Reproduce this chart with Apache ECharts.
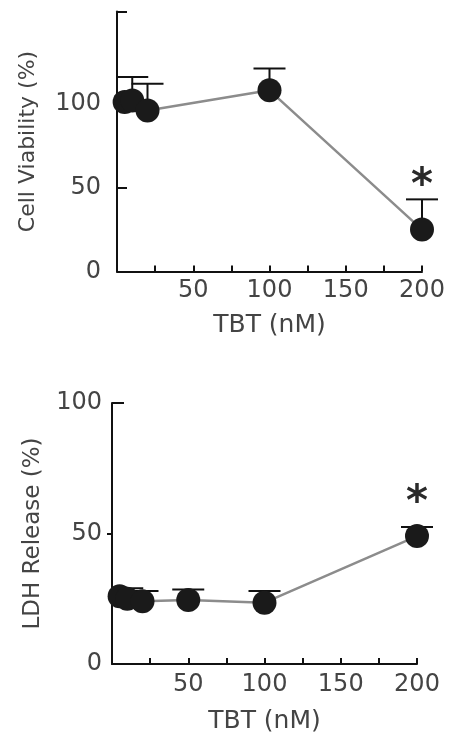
<!DOCTYPE html>
<html>
<head>
<meta charset="utf-8">
<script src="https://cdn.jsdelivr.net/npm/echarts@6/dist/echarts.min.js"></script>
<style>
html,body{margin:0;padding:0;background:#fff;}
#chart{width:454px;height:737px;}
</style>
</head>
<body>
<div id="chart"></div>
<script>
// ---- data ----
const doseTop = [5, 10, 20, 100, 200];
const viability = [101, 102, 96, 108, 25];
const viabilitySD = [0, 14, 16, 13, 18];
const viabilitySig = [200];

const doseBottom = [5, 10, 20, 50, 100, 200];
const ldhRelease = [26, 25, 24, 24.5, 23.5, 49];
const ldhSD = [0, 4, 4, 4, 4.5, 3.5];
const ldhSig = [200];

const xTickLabels = [50, 100, 150, 200];
const yTickLabels = [0, 50, 100];

const FONT = 'DejaVu Sans';
const TXT = '#444';

function pairs(xs, ys) { return xs.map((x, i) => [x, ys[i]]); }
function errData(xs, ys, sd, sig) { return xs.map((x, i) => [x, ys[i], sd[i], sig.includes(x) ? 1 : 0]); }

function errRender(starOffset) {
  return function (params, api) {
    const x = api.value(0), y = api.value(1), sd = api.value(2), sig = api.value(3);
    const p0 = api.coord([x, y]);
    const p1 = api.coord([x, y + sd]);
    const children = [];
    const st = { stroke: '#111', lineWidth: 2 };
    if (sd > 0) {
      children.push({ type: 'line', shape: { x1: p0[0], y1: p0[1], x2: p1[0], y2: p1[1] }, style: st });
      children.push({ type: 'line', shape: { x1: p1[0] - 16, y1: p1[1], x2: p1[0] + 16, y2: p1[1] }, style: st });
    }
    if (sig) {
      children.push({ type: 'text', x: p1[0], y: p1[1] - starOffset,
        style: { text: '*', fontSize: 42, fontWeight: 'bold', fontFamily: FONT, fill: '#2a2a2a', align: 'center', verticalAlign: 'middle' } });
    }
    return { type: 'group', children };
  };
}

function xAxis(grid, margin, nameGap) {
  return {
    type: 'value', gridIndex: grid, min: 0, max: 200, interval: 25,
    axisLine: { lineStyle: { color: '#111', width: 2 } },
    axisTick: { inside: true, length: 6, lineStyle: { color: '#111', width: 2 } },
    axisLabel: { margin: margin, fontSize: 24, fontFamily: FONT, color: TXT,
      formatter: v => xTickLabels.includes(v) ? String(v) : '' },
    splitLine: { show: false },
    name: 'TBT (nM)', nameLocation: 'middle', nameGap: nameGap,
    nameTextStyle: { fontSize: 25, fontFamily: FONT, color: TXT }
  };
}

const option = {
  backgroundColor: '#fff',
  animation: false,
  grid: [
    { left: 117, top: 11.5, width: 305, height: 260 },
    { left: 112, top: 403, width: 305, height: 261 }
  ],
  xAxis: [ xAxis(0, 7, 41), xAxis(1, 9, 45) ],
  yAxis: [
    {
      type: 'value', gridIndex: 0, min: 0, max: 155, position: 'left',
      axisLine: { show: true, lineStyle: { color: '#111', width: 2 } },
      axisTick: { show: true, inside: true, length: 10, customValues: [50, 100, 155], lineStyle: { color: '#111', width: 2 } },
      axisLabel: { customValues: yTickLabels, margin: 16, fontSize: 24, fontFamily: FONT, color: TXT },
      splitLine: { show: false },
      name: 'Cell Viability (%)', nameLocation: 'middle', nameGap: 78, nameRotate: 90,
      nameTextStyle: { fontSize: 22, fontFamily: FONT, color: TXT }
    },
    {
      type: 'value', gridIndex: 1, min: 0, max: 100, position: 'left',
      axisLine: { show: true, lineStyle: { color: '#111', width: 2 } },
      axisTick: { show: true, inside: false, length: 5, customValues: [50], lineStyle: { color: '#111', width: 2 } },
      axisLabel: { customValues: yTickLabels, margin: 10, fontSize: 24, fontFamily: FONT, color: TXT },
      splitLine: { show: false },
      name: 'LDH Release (%)', nameLocation: 'middle', nameGap: 67, nameRotate: 90,
      nameTextStyle: { fontSize: 23, fontFamily: FONT, color: TXT }
    },
    {
      type: 'value', gridIndex: 1, min: 0, max: 100, position: 'left', offset: 0,
      axisLine: { show: false },
      axisTick: { show: true, inside: true, length: 12, customValues: [100], lineStyle: { color: '#111', width: 2 } },
      axisLabel: { show: false },
      splitLine: { show: false }
    }
  ],
  series: [
    { type: 'custom', xAxisIndex: 0, yAxisIndex: 0, clip: false, z: 1,
      renderItem: errRender(12), data: errData(doseTop, viability, viabilitySD, viabilitySig) },
    { type: 'line', xAxisIndex: 0, yAxisIndex: 0, clip: false, z: 2,
      data: pairs(doseTop, viability), symbol: 'circle', symbolSize: 24, showAllSymbol: true,
      itemStyle: { color: '#1a1a1a' }, lineStyle: { color: '#8c8c8c', width: 2.5 } },
    { type: 'custom', xAxisIndex: 1, yAxisIndex: 1, clip: false, z: 1,
      renderItem: errRender(23), data: errData(doseBottom, ldhRelease, ldhSD, ldhSig) },
    { type: 'line', xAxisIndex: 1, yAxisIndex: 1, clip: false, z: 2,
      data: pairs(doseBottom, ldhRelease), symbol: 'circle', symbolSize: 24, showAllSymbol: true,
      itemStyle: { color: '#1a1a1a' }, lineStyle: { color: '#8c8c8c', width: 2.5 } }
  ]
};

const chart = echarts.init(document.getElementById('chart'), null, { renderer: 'canvas' });
chart.setOption(option);
</script>
</body>
</html>
